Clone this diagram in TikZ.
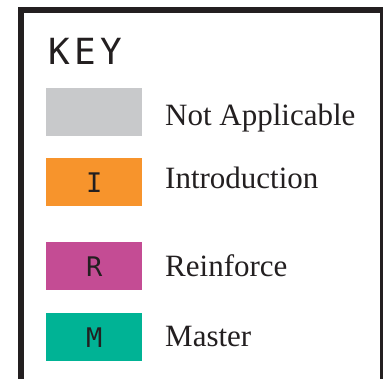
\documentclass[tikz,border=0pt]{standalone}
\usepackage{fontspec}
\setmainfont{Liberation Serif}
\newfontfamily\keyfont[LetterSpace=12]{DejaVu Sans Mono}
\newfontfamily\swfont{DejaVu Sans Mono}
\definecolor{keyframe}{RGB}{35,31,32}
\definecolor{napgray}{RGB}{200,201,203}
\definecolor{introorange}{RGB}{247,148,44}
\definecolor{reinpink}{RGB}{196,76,148}
\definecolor{mastergreen}{RGB}{0,179,149}
\begin{document}
\begin{tikzpicture}[x=1pt, y=-1pt, line join=miter,
	swatch/.style={minimum width=96pt, minimum height=48pt, inner sep=0pt, anchor=north west, font=\fontsize{27}{27}\swfont, text=keyframe},
	keytext/.style={anchor=base west, inner sep=0pt, font=\fontsize{31}{31}\selectfont, text=keyframe}]
	\useasboundingbox (0,0) rectangle (388,378);
	\draw[line width=5.5pt, color=keyframe] (21,385)--(21,10)--(383,10);
	\draw[line width=3.5pt, color=keyframe] (381.5,7.25)--(381.5,385);
	\node[anchor=base west, inner sep=0pt, font=\fontsize{36}{36}\keyfont, text=keyframe] (key) at (48,64) {KEY};
	\foreach \n/\c/\y/\b/\l/\t in {na/napgray/88/125//Not Applicable, in/introorange/158/188/I/Introduction, re/reinpink/242/276/R/Reinforce, ma/mastergreen/313/346/M/Master}
	{
		\node[swatch, fill=\c] (\n) at (46,\y) {\l};
		\node[keytext] (\n-txt) at (165,\b) {\t};
	}
\end{tikzpicture}
\end{document}
